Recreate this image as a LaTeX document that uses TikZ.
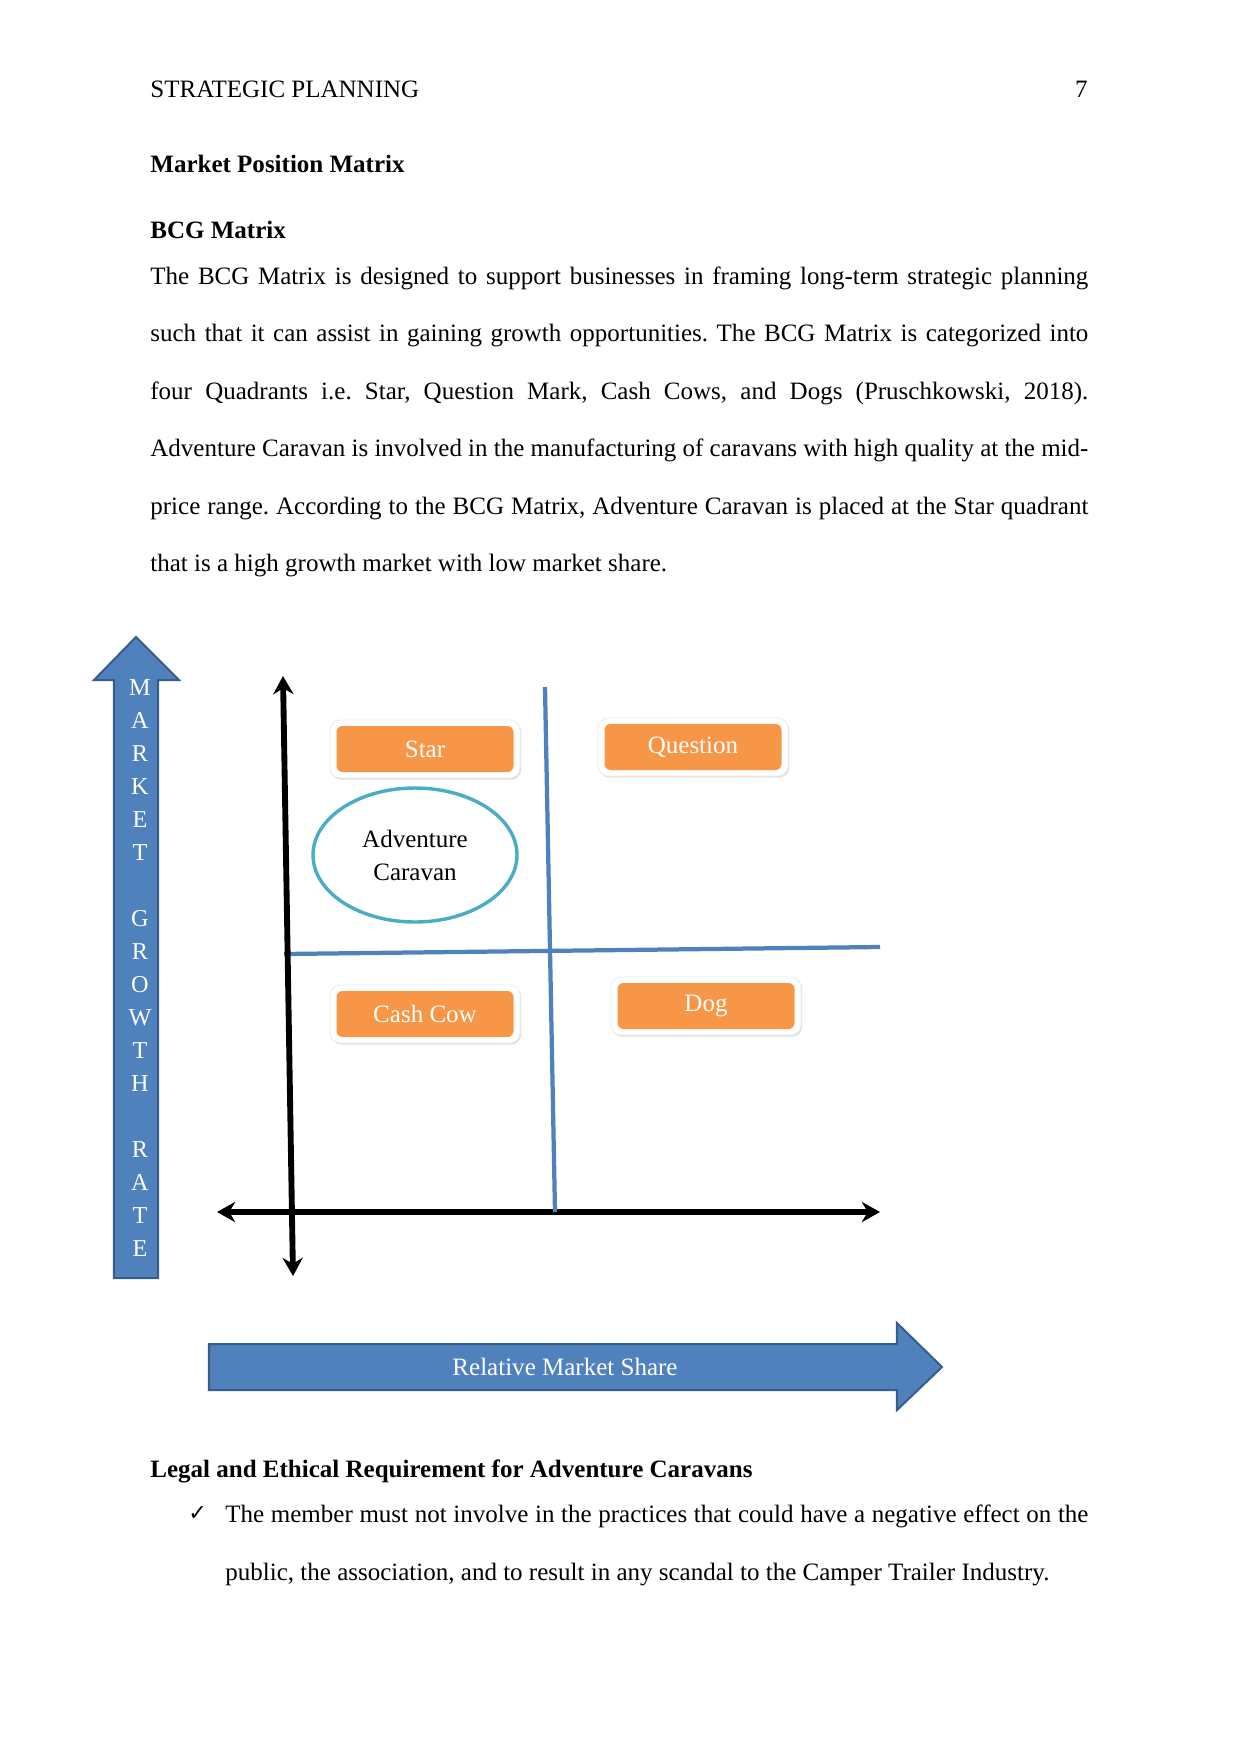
\documentclass[tikz,border=0pt]{standalone}
\usepackage{fontspec}
\setmainfont{Liberation Serif}
\newfontfamily\symfont{DejaVu Sans}
\usetikzlibrary{arrows.meta,shadows,shapes.geometric}
\definecolor{officeblue}{RGB}{79,129,189}
\definecolor{blueedge}{RGB}{56,93,138}
\definecolor{orangefill}{RGB}{247,150,70}
\definecolor{aqua}{RGB}{75,172,198}
\def\pxu{0.495pt}
\frenchspacing
\begin{document}
\begin{tikzpicture}[x=0.495pt,y=-0.495pt,
  font=\fontsize{12.38}{14}\selectfont,
  txt/.style={inner sep=0pt, anchor=base west},
  glowbox/.style={fill=white, draw=black!8, rounded corners=5pt, minimum width=190*\pxu, minimum height=58*\pxu,
    drop shadow={opacity=0.25, shadow xshift=0.6pt, shadow yshift=-0.8pt}},
  quadbox/.style={fill=orangefill, text=white, rounded corners=3pt, minimum width=177*\pxu, minimum height=46*\pxu, inner sep=0pt},
  axisline/.style={line width=2.9pt, {Stealth[length=9pt,width=10pt]}-{Stealth[length=9pt,width=10pt]}},
  divider/.style={draw=officeblue, line width=2.1pt},
  fatarrow/.style={fill=officeblue, draw=blueedge, line width=1pt, line join=miter}]
\useasboundingbox (0,0) rectangle (1241,1754);

% header
\node[txt] (hdr) at (150,97) {STRATEGIC PLANNING};
\node[inner sep=0pt, anchor=base east] (pg) at (1088,97) {7};
\node[txt, font=\fontsize{12.38}{14}\selectfont\bfseries] (h1) at (150,172) {Market Position Matrix};
\node[txt, font=\fontsize{12.38}{14}\selectfont\bfseries] (h2) at (150,238) {BCG Matrix};

% paragraph
\node[txt] (p1) at (150,284) {\makebox[464.3pt][s]{The BCG Matrix is designed to support businesses in framing long-term strategic planning}};
\node[txt] (p2) at (150,341.5) {\makebox[464.3pt][s]{such that it can assist in gaining growth opportunities. The BCG Matrix is categorized into}};
\node[txt] (p3) at (150,399) {\makebox[464.3pt][s]{four Quadrants i.e. Star, Question Mark, Cash Cows, and Dogs (Pruschkowski, 2018).}};
\node[txt] (p4) at (150,456.5) {\makebox[464.3pt][s]{Adventure Caravan is involved in the manufacturing of caravans with high quality at the mid-}};
\node[txt] (p5) at (150,514) {\makebox[464.3pt][s]{price range. According to the BCG Matrix, Adventure Caravan is placed at the Star quadrant}};
\node[txt] (p6) at (150,571.5) {that is a high growth market with low market share.};

% market growth arrow
\draw[fatarrow] (114,1278) -- (114,680) -- (94,680) -- (136,637) -- (179,680) -- (158,680) -- (158,1278) -- cycle;
\node[align=center, text=white, inner sep=0pt, font=\fontsize{12}{16.33}\selectfont] (mgr) at (140,968)
  {M\\A\\R\\K\\E\\T\\~\\G\\R\\O\\W\\T\\H\\~\\R\\A\\T\\E};

% relative market share arrow
\draw[fatarrow] (209,1344) -- (897,1344) -- (897,1323) -- (942,1367) -- (897,1410) -- (897,1390) -- (209,1390) -- cycle;
\node[text=white, inner sep=0pt] (rms) at (565,1367) {Relative Market Share};

% dividers
\coordinate (dvtop) at (545,687);
\coordinate (dvbot) at (555,1212);
\coordinate (dhl) at (284,954);
\coordinate (dhr) at (880,947);
\draw[divider] (dhl) -- (dhr);

% axes
\coordinate (vtop) at (283,676);
\coordinate (vbot) at (293,1276);
\coordinate (hleft) at (217,1212);
\coordinate (hright) at (880,1212);
\draw[axisline] (vbot) -- (vtop);
\draw[axisline] (hleft) -- (hright);
\draw[divider] (dvtop) -- (dvbot);

% quadrant labels
\node[glowbox] (starg) at (425,749) {};
\node[quadbox] (star) at (425,749) {Star};
\node[glowbox] (questg) at (693,747) {};
\node[quadbox] (quest) at (693,747) {Question};
\node[glowbox] (cowg) at (425,1014) {};
\node[quadbox] (cow) at (425,1014) {Cash Cow};
\node[glowbox] (dogg) at (706,1006) {};
\node[quadbox] (dog) at (706,1006) {Dog};

% ellipse
\node[ellipse, draw=aqua, line width=1.7pt, minimum width=204*\pxu, minimum height=134*\pxu, align=center,
  font=\fontsize{12.38}{16.3}\selectfont] (adv) at (415,855) {Adventure\\Caravan};

% legal section
\node[txt, font=\fontsize{12.38}{14}\selectfont\bfseries] (h3) at (150,1477) {Legal and Ethical Requirement for Adventure Caravans};
\node[txt, font=\symfont\fontsize{11}{13}\selectfont] (chk) at (188,1520) {✓};
\node[txt] (b1) at (225,1522) {\makebox[427.2pt][s]{The member must not involve in the practices that could have a negative effect on the}};
\node[txt] (b2) at (225,1580) {public, the association, and to result in any scandal to the Camper Trailer Industry.};
\end{tikzpicture}
\end{document}
